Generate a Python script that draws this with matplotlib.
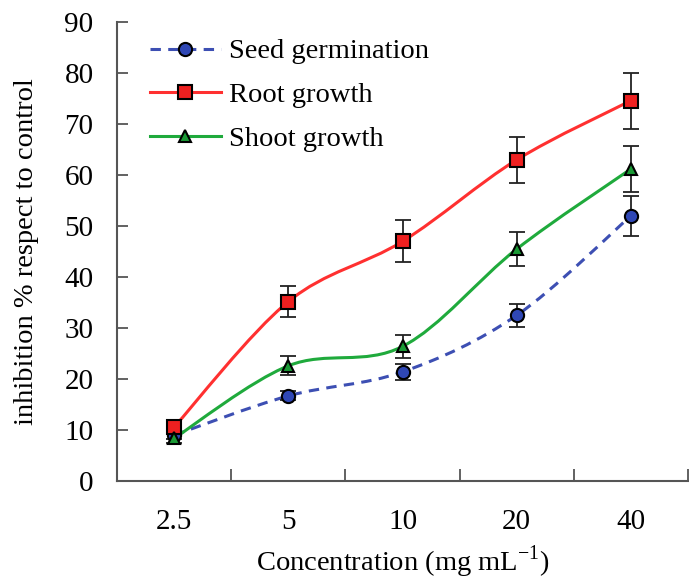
import numpy as np
import matplotlib.pyplot as plt
from matplotlib.path import Path
from matplotlib.patches import PathPatch
from matplotlib.lines import Line2D

plt.rcParams['font.family'] = ['Liberation Serif', 'DejaVu Serif']
plt.rcParams['mathtext.fontset'] = 'custom'
plt.rcParams['mathtext.rm'] = 'Liberation Serif'

concentrations = ['2.5', '5', '10', '20', '40']
seed = [9.0, 16.7, 21.4, 32.5, 52.0]
seed_err = [0.8, 0.9, 1.5, 2.2, 3.9]
root = [10.6, 35.2, 47.0, 63.0, 74.6]
root_err = [0.9, 3.1, 4.1, 4.5, 5.5]
shoot = [8.4, 22.6, 26.4, 45.5, 61.2]
shoot_err = [0.9, 1.9, 2.3, 3.3, 4.5]


def smooth_path(x, y):
    # excel-like smoothed line: cubic bezier with catmull-rom control points
    pts = np.column_stack([x, y]).astype(float)
    verts = [pts[0]]
    codes = [Path.MOVETO]
    n = len(pts)
    for i in range(n - 1):
        p0 = pts[i - 1] if i > 0 else pts[i]
        p1 = pts[i]
        p2 = pts[i + 1]
        p3 = pts[i + 2] if i + 2 < n else pts[i + 1]
        c1 = p1 + (p2 - p0) / 6.0
        c2 = p2 - (p3 - p1) / 6.0
        verts += [c1, c2, p2]
        codes += [Path.CURVE4] * 3
    return Path(verts, codes)


fig = plt.figure(figsize=(6.89, 5.82), dpi=100)
ax = fig.add_axes([0.170, 0.1735, 0.8285, 0.7885])

xpos = np.arange(1, len(concentrations) + 1)
dash = (0, (3.4, 2.4))

series = [
    ('Seed germination', seed, seed_err, '#3d4fb3', '#2f47b5', 'o', '--'),
    ('Root growth', root, root_err, '#ff3030', '#ee2020', 's', '-'),
    ('Shoot growth', shoot, shoot_err, '#1faa3c', '#1a9a35', '^', '-'),
]

handles = []
for name, vals, err, lc, fc, mk, ls in series:
    patch = PathPatch(smooth_path(xpos, vals), facecolor='none', edgecolor=lc,
                      lw=2.2, linestyle=dash if ls == '--' else '-', zorder=2)
    ax.add_patch(patch)
    ax.errorbar(xpos, vals, yerr=err, fmt='none', ecolor='#222222',
                elinewidth=1.3, capsize=6, capthick=1.3, zorder=3)
    ms = 9.5 if mk != '^' else 9
    ax.plot(xpos, vals, linestyle='none', marker=mk, markersize=ms,
            markerfacecolor=fc, markeredgecolor='black', markeredgewidth=1.5, zorder=4)
    handles.append(Line2D([], [], color=lc, lw=2.2,
                          linestyle=dash if ls == '--' else '-',
                          marker=mk, markersize=ms, markerfacecolor=fc,
                          markeredgecolor='black', markeredgewidth=1.5))

ax.set_xlim(0.5, 5.5)
ax.set_ylim(0, 90)
ax.set_yticks(np.arange(0, 91, 10))
ax.set_xticks(np.arange(1.5, 5.6, 1.0))
ax.set_xticklabels([])
ax.set_xticks(xpos, minor=True)
ax.set_xticklabels(concentrations, minor=True)

for s in ['top', 'right']:
    ax.spines[s].set_visible(False)
for s in ['left', 'bottom']:
    ax.spines[s].set_color('#555555')
    ax.spines[s].set_linewidth(1.5)

ax.tick_params(axis='y', direction='in', length=8, width=1.3, color='#555555',
               labelsize=21, pad=17)
ax.tick_params(axis='x', which='major', direction='in', length=9, width=1.3,
               color='#555555')
ax.tick_params(axis='x', which='minor', length=0, labelsize=21, pad=20)

ax.set_ylabel('inhibition % respect to control', fontsize=20.5, labelpad=18)
ax.set_xlabel('Concentration (mg mL$^{\\mathregular{-1}}$)', fontsize=20.5, labelpad=6)

ax.legend(handles, [s[0] for s in series], loc='upper left',
          bbox_to_anchor=(0.012, 1.02), frameon=False, fontsize=20.5,
          handlelength=2.5, labelspacing=0.62, handletextpad=0.3)

fig.savefig('out.png', dpi=100)
